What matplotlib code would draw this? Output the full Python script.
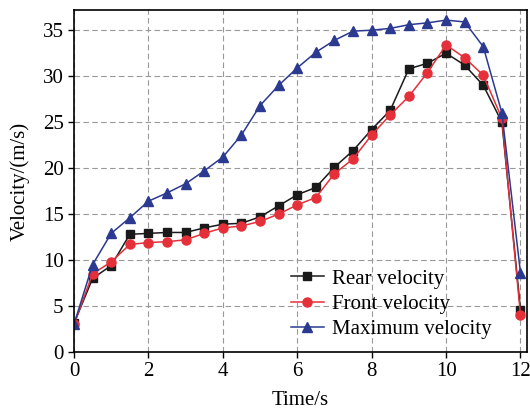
import matplotlib.pyplot as plt
import numpy as np

plt.rcParams['font.family'] = ['Liberation Serif', 'DejaVu Serif']

t = np.arange(0, 12.01, 0.5)
rear = [3.1, 8.0, 9.4, 12.8, 12.9, 13.0, 13.0, 13.5, 13.9, 14.0, 14.7, 15.9, 17.1,
        17.9, 20.1, 21.9, 24.2, 26.3, 30.8, 31.4, 32.5, 31.2, 29.0, 25.0, 4.6]
front = [3.0, 8.5, 9.8, 11.7, 11.9, 12.0, 12.2, 12.9, 13.5, 13.7, 14.2, 15.0, 16.0,
         16.8, 19.4, 21.0, 23.6, 25.8, 27.8, 30.4, 33.4, 32.0, 30.1, 25.4, 4.0]
vmax = [3.0, 9.5, 12.9, 14.6, 16.4, 17.3, 18.3, 19.7, 21.2, 23.6, 26.8, 29.0, 30.9,
        32.6, 33.9, 34.9, 35.0, 35.2, 35.6, 35.8, 36.1, 35.9, 33.2, 26.0, 8.6]

fig = plt.figure(figsize=(5.3, 4.11), dpi=100)
ax = fig.add_axes([0.1396, 0.1436, 0.8544, 0.8321])

ax.plot(t, rear, color='#1a1a1a', marker='s', markersize=6, lw=1.1, label='Rear velocity')
ax.plot(t, front, color='#e5303a', marker='o', markersize=6.5, lw=1.1, label='Front velocity')
ax.plot(t, vmax, color='#2b3990', marker='^', markersize=7.5, lw=1.1, label='Maximum velocity')

ax.set_xlim(0, 12.17)
ax.set_ylim(0, 37.2)
ax.set_xticks(np.arange(0, 13, 2))
ax.set_yticks(np.arange(0, 36, 5))
ax.grid(True, linestyle=(0, (5, 3)), color='#999999', lw=0.8)
ax.tick_params(labelsize=15, direction='out', length=4, width=1)
for s in ax.spines.values():
    s.set_linewidth(1.2)

ax.set_xlabel('Time/s', fontsize=15, labelpad=7)
ax.set_ylabel('Velocity/(m/s)', fontsize=15, labelpad=9)

ax.legend(loc='upper left', bbox_to_anchor=(0.46, 0.267), frameon=False, fontsize=15,
          handlelength=1.6, handletextpad=0.4, labelspacing=0.28, borderaxespad=0)

plt.savefig('out.png', dpi=100)
